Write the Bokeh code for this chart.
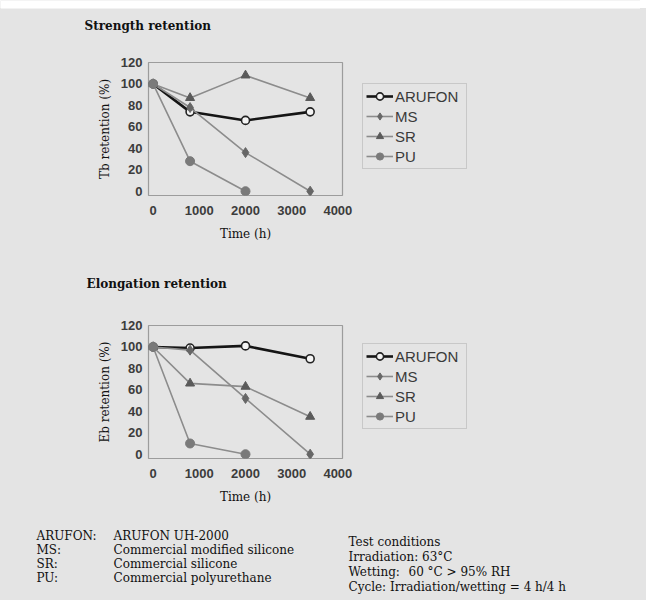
from bokeh.plotting import figure
from bokeh.models import Range1d, FixedTicker, Label, Legend, LegendItem
from bokeh.layouts import column, row
from bokeh.embed import file_html
from bokeh.resources import INLINE

# ---------------- data ----------------
time_h = [0, 800, 2000, 3400]
series_names = ["ARUFON", "MS", "SR", "PU"]
tb_arufon = [100, 74, 66, 74]
tb_ms = [100, 78, 36, 0]
tb_sr = [100, 87, 108, 87]
tb_pu = [100, 28, 0]
eb_arufon = [100, 99, 101, 89]
eb_ms = [100, 97, 52, 0]
eb_sr = [100, 66, 63, 35]
eb_pu = [100, 10, 0]
x_ticks = [0, 1000, 2000, 3000, 4000]
y_ticks = [0, 20, 40, 60, 80, 100, 120]

notes_left_keys = ["ARUFON:", "MS:", "SR:", "PU:"]
notes_left_vals = ["ARUFON UH-2000", "Commercial modified silicone",
                   "Commercial silicone", "Commercial polyurethane"]
notes_right = ["Test conditions", "Irradiation: 63\u00b0C", "Wetting:",
               "Cycle: Irradiation/wetting = 4 h/4 h"]
wetting_val = "60 \u00b0C > 95% RH"

BG = "#e4e4e4"
SERIF = "DejaVu Serif"
SANS = "Liberation Sans"
TOTAL_W = 640
CHART_W = 356
FRAME_W = 194
FRAME_H = 133
LEFT = 148

styles = {
    "ARUFON": dict(line_color="#151515", line_width=2.6, marker="circle", size=8,
                   fill_color="#f4f4f4", m_line="#222222", m_width=1.6),
    "MS": dict(line_color="#8c8c8c", line_width=1.6, marker="diamond", size=10,
               fill_color="#666666", m_line="#666666", m_width=1),
    "SR": dict(line_color="#8c8c8c", line_width=1.6, marker="triangle", size=9,
               fill_color="#5a5a5a", m_line="#5a5a5a", m_width=1),
    "PU": dict(line_color="#8c8c8c", line_width=1.6, marker="circle", size=9,
               fill_color="#7a7a7a", m_line="#7a7a7a", m_width=1),
}


def blank(width, height, xr=(0, 1), yr=(0, 1)):
    p = figure(width=width, height=height, output_backend="svg", toolbar_location=None,
               x_range=Range1d(*xr), y_range=Range1d(*yr),
               x_axis_location=None, y_axis_location=None, min_border=0)
    p.background_fill_color = BG
    p.border_fill_color = BG
    p.outline_line_color = None
    p.grid.grid_line_color = None
    return p


def add_text(p, x, y_top, text, bold=False, size="12px"):
    # x from left of figure, y_top from top of figure (pixels)
    p.add_layout(Label(x=x, y=p.height - y_top, x_units="screen", y_units="screen",
                       text=text, text_font=SERIF,
                       text_font_style="bold" if bold else "normal",
                       text_font_size=size, text_color="#111111",
                       text_baseline="middle", text_align="left"))


def make_chart(height, top, ylabel, data):
    bottom = height - top - FRAME_H
    p = figure(width=CHART_W, height=height, output_backend="svg", toolbar_location=None,
               x_range=Range1d(-100, 4100), y_range=Range1d(-4, 120),
               min_border_left=LEFT, min_border_right=CHART_W - LEFT - FRAME_W,
               min_border_top=top, min_border_bottom=bottom)
    p.background_fill_color = BG
    p.border_fill_color = BG
    p.outline_line_color = "#9c9c9c"
    p.outline_line_width = 1.2
    p.grid.grid_line_color = None

    for ax in (p.xaxis, p.yaxis):
        ax.axis_line_color = None
        ax.major_tick_line_color = None
        ax.minor_tick_line_color = None
        ax.major_tick_out = 0
        ax.major_tick_in = 0
        ax.major_label_text_font = SANS
        ax.major_label_text_font_style = "bold"
        ax.major_label_text_font_size = "13px"
        ax.major_label_text_color = "#3c3c3c"
        ax.axis_label_text_font = SERIF
        ax.axis_label_text_font_style = "normal"
        ax.axis_label_text_font_size = "12px"
        ax.axis_label_text_color = "#111111"
    p.xaxis.ticker = FixedTicker(ticks=x_ticks)
    p.yaxis.ticker = FixedTicker(ticks=y_ticks)
    p.xaxis.major_label_standoff = 10
    p.yaxis.major_label_standoff = 6
    p.xaxis.axis_label = "Time (h)"
    p.yaxis.axis_label = ylabel
    p.xaxis.axis_label_standoff = 9
    p.yaxis.axis_label_standoff = 6

    for name in series_names:
        ys = data[name]
        xs = time_h[:len(ys)]
        st = styles[name]
        p.line(xs, ys, line_color=st["line_color"], line_width=st["line_width"])
        p.scatter(xs, ys, marker=st["marker"], size=st["size"],
                  fill_color=st["fill_color"], line_color=st["m_line"],
                  line_width=st["m_width"])
    return p


def make_legend_fig(height, data, vx, vy):
    # frame of this figure is aligned by the row with the chart's frame;
    # series are drawn off-range so only the legend is visible
    p = blank(TOTAL_W - CHART_W, height, xr=(-1e6, -1e6 + 1), yr=(-1e6, -1e6 + 1))
    items = []
    for name in series_names:
        ys = data[name]
        xs = time_h[:len(ys)]
        st = styles[name]
        lr = p.line(xs, ys, line_color=st["line_color"], line_width=st["line_width"])
        sr = p.scatter(xs, ys, marker=st["marker"], size=st["size"] - 2,
                       fill_color=st["fill_color"], line_color=st["m_line"],
                       line_width=st["m_width"])
        items.append(LegendItem(label=name, renderers=[lr, sr]))
    legend = Legend(items=items, location=(vx, vy))
    legend.label_text_font = SANS
    legend.label_text_font_size = "15px"
    legend.label_text_color = "#3a3a3a"
    legend.glyph_width = 27
    legend.glyph_height = 18
    legend.label_height = 18
    legend.label_width = 68
    legend.label_standoff = 2
    legend.spacing = 2
    legend.padding = 3
    legend.margin = 0
    legend.border_line_color = "#ababab"
    legend.border_line_width = 1
    legend.background_fill_color = BG
    legend.background_fill_alpha = 1
    p.add_layout(legend, "center")
    return p


tb = {"ARUFON": tb_arufon, "MS": tb_ms, "SR": tb_sr, "PU": tb_pu}
eb = {"ARUFON": eb_arufon, "MS": eb_ms, "SR": eb_sr, "PU": eb_pu}

# header with strength title (page y 0..48)
t1 = blank(TOTAL_W, 48, xr=(0, TOTAL_W), yr=(0, 48))
t1.quad(left=[0], right=[TOTAL_W], bottom=[40], top=[48], fill_color="white",
        line_color=None)
add_text(t1, 84, 25, "Strength retention", bold=True)

c1 = make_chart(220, 14, "Tb retention (%)", tb)
l1 = make_legend_fig(220, tb, 6, 26)

t2 = blank(TOTAL_W, 42)
add_text(t2, 86, 15, "Elongation retention", bold=True)

c2 = make_chart(198, 15, "Eb retention (%)", eb)
l2 = make_legend_fig(198, eb, 6, 29)

# notes (page y 508..600)
n = blank(TOTAL_W, 92)
left_rows = [27, 41, 55, 69]
right_rows = [33, 48, 63, 78]
for k, v, yy in zip(notes_left_keys, notes_left_vals, left_rows):
    add_text(n, 36, yy, k)
    add_text(n, 113, yy, v)
for t, yy in zip(notes_right, right_rows):
    add_text(n, 348, yy, t)
add_text(n, 408, right_rows[2], wetting_val)

layout = column(t1, row(c1, l1, spacing=0), t2, row(c2, l2, spacing=0), n, spacing=0)
html = file_html(layout, INLINE)
style = ("<style>html, body { background: linear-gradient(to bottom, #ffffff 0px, "
         "#ffffff 8px, %s 8px, %s 600px, #ffffff 600px) !important; }</style>" % (BG, BG))
if "</head>" in html:
    html = html.replace("</head>", style + "</head>", 1)
else:
    html = style + html
open("out.html", "w").write(html)
